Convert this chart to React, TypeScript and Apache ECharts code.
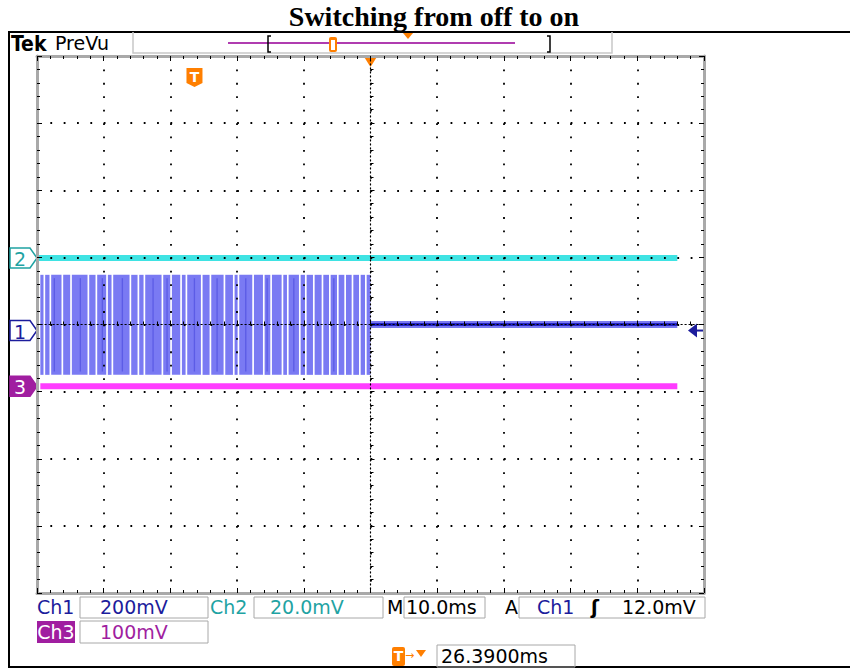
import React, { useEffect, useRef } from "react";
import * as echarts from "echarts";

// ---------- data (x in ms relative to screen centre, 10 ms/div; y in divisions) ----------
const TITLE = "Switching from off to on";
const X_MIN = -50;
const X_MAX = 50;
const X_DIV = 10;
const Y_MIN = -4;
const Y_MAX = 4;
const Y_DIV = 1;

const RECORD_END = 46;
const CH1_BURST_START = -49.5;
const CH1_BURST_END = 0;
const CH1_BURST_HIGH = 0.74;
const CH1_BURST_LOW = -0.75;
// white gaps seen inside the Ch1 burst (ms)
const CH1_GAPS = [
  -48.9, -48.0, -46.2, -44.9, -42.3, -41.1, -39.5, -38.7, -36.0, -34.8, -33.9, -31.2,
  -29.9, -28.4, -27.6, -25.3, -24.0, -21.9, -20.5, -19.8, -17.6, -16.0, -14.9, -13.2,
  -12.4, -10.6, -9.7, -8.5, -7.2, -6.1, -4.9, -3.8, -2.7, -1.6, -0.7,
];
// darker streaks inside the burst (ms)
const CH1_STREAKS = [-47.4, -43.5, -40.2, -37.2, -32.6, -30.5, -26.4, -23.0, -18.7, -15.5, -11.5, -5.5];
const CH1_GAP_WIDTH = 0.25;
const CH1_AFTER = [
  [0, 0],
  [RECORD_END, 0],
];
const CH2 = [
  [-50, 0.99],
  [RECORD_END, 0.99],
];
const CH3 = [
  [-49.5, -0.92],
  [RECORD_END, -0.92],
];
const CH1_LEVEL = 0;
const CH2_LEVEL = 0.99;
const CH3_LEVEL = -0.92;
const TRIG_LEVEL = -0.09;
const TRIG_POS = -26.39;

const TOP_LABELS = ["Tek", "PreVu"];
const ROW1 = ["Ch1", "200mV", "Ch2", "20.0mV", "M", "10.0ms", "A", "Ch1", "ʃ", "12.0mV"];
const ROW2 = ["Ch3", "100mV"];
const ROW3 = ["26.3900ms"];

const ORANGE = "#ff7f00";
const NAVY = "#1c1c9c";
const TEAL = "#1fa3a3";
const PURPLE = "#a01ea0";
const FONT = "DejaVu Sans";

export default function App() {
  const ref = useRef<HTMLDivElement>(null);

  useEffect(() => {
    if (!ref.current) return;
    const chart = echarts.init(ref.current, undefined, { renderer: "svg" });

    const segs: number[][] = [];
    let start = CH1_BURST_START;
    for (const g of CH1_GAPS) {
      segs.push([start, g - CH1_GAP_WIDTH / 2, CH1_BURST_HIGH, CH1_BURST_LOW]);
      start = g + CH1_GAP_WIDTH / 2;
    }
    segs.push([start, CH1_BURST_END, CH1_BURST_HIGH, CH1_BURST_LOW]);
    const streaks = CH1_STREAKS.map((s) => [s - 0.1, s + 0.1, CH1_BURST_HIGH - 0.05, CH1_BURST_LOW + 0.05]);

    const baseX = {
      type: "value",
      min: X_MIN,
      max: X_MAX,
      interval: X_DIV,
      axisLabel: { show: false },
      splitLine: { show: false },
    };
    const baseY = {
      type: "value",
      min: Y_MIN,
      max: Y_MAX,
      interval: Y_DIV,
      axisLabel: { show: false },
      splitLine: { show: false },
    };
    const frameLine = { lineStyle: { color: "#a9a9a9", width: 3 } };
    const frameTick = { show: true, inside: true, length: 5, lineStyle: { color: "#000", width: 1 } };
    const frameMinor = { show: true, splitNumber: 5, length: 3, lineStyle: { color: "#000", width: 1 } };

    const rectItem = (fill: string) => (params: any, api: any) => {
      const p0 = api.coord([api.value(0), api.value(2)]);
      const p1 = api.coord([api.value(1), api.value(3)]);
      return {
        type: "rect",
        shape: { x: p0[0], y: p0[1], width: p1[0] - p0[0], height: p1[1] - p0[1] },
        style: { fill },
      };
    };

    const option: any = {
      animation: false,
      backgroundColor: "#ffffff",
      grid: { left: 37, top: 56, width: 667, height: 537, containLabel: false, outerBoundsMode: "none" },
      xAxis: [
        {
          ...baseX,
          position: "bottom",
          z: 10,
          axisLine: { onZero: true, onZeroAxisIndex: 0, lineStyle: { color: "#000", width: 1.2, type: [1.2, 2.8] } },
          axisTick: { show: true, inside: true, length: 4, lineStyle: { color: "#000" } },
          minorTick: { show: true, splitNumber: 5, length: 3, lineStyle: { color: "#000" } },
          splitLine: { show: true, lineStyle: { color: "#000", width: 1.8, type: [1.8, 11.625] } },
        },
        { ...baseX, position: "bottom", z: 11, axisLine: { onZero: false, ...frameLine }, axisTick: frameTick, minorTick: frameMinor },
        { ...baseX, position: "top", z: 11, axisLine: { onZero: false, ...frameLine }, axisTick: frameTick, minorTick: frameMinor },
      ],
      yAxis: [
        {
          ...baseY,
          position: "left",
          z: 10,
          axisLine: { onZero: true, onZeroAxisIndex: 0, lineStyle: { color: "#000", width: 1.2, type: [1.2, 2.8] } },
          axisTick: { show: true, inside: true, length: 4, lineStyle: { color: "#000" } },
          minorTick: { show: true, splitNumber: 5, length: 3, lineStyle: { color: "#000" } },
          splitLine: { show: true, lineStyle: { color: "#000", width: 1.8, type: [1.8, 11.54] } },
        },
        { ...baseY, position: "left", z: 11, axisLine: { onZero: false, ...frameLine }, axisTick: frameTick, minorTick: frameMinor },
        { ...baseY, position: "right", z: 11, axisLine: { onZero: false, ...frameLine }, axisTick: frameTick, minorTick: frameMinor },
      ],
      series: [
        { type: "custom", name: "Ch1 burst", data: segs, renderItem: rectItem("#7a7af3"), z: 2 },
        { type: "custom", name: "Ch1 streaks", data: streaks, renderItem: rectItem("#5c5ce6"), z: 2 },
        {
          type: "line",
          name: "Ch2",
          data: CH2,
          symbol: "none",
          lineStyle: { color: "#3fe3e3", width: 6 },
          z: 3,
        },
        {
          type: "line",
          name: "Ch3",
          data: CH3,
          symbol: "none",
          lineStyle: { color: "#ff3cff", width: 6 },
          z: 3,
        },
        {
          type: "line",
          name: "Ch1 halo",
          data: CH1_AFTER,
          symbol: "none",
          lineStyle: { color: "#7a7af0", width: 7 },
          z: 3,
        },
        {
          type: "line",
          name: "Ch1",
          data: CH1_AFTER,
          symbol: "none",
          lineStyle: { color: "#2323c8", width: 3 },
          z: 4,
        },
      ],
    };
    chart.setOption(option);

    const yp = (v: number) => chart.convertToPixel({ yAxisIndex: 0 }, v) as number;
    const xp = (v: number) => chart.convertToPixel({ xAxisIndex: 0 }, v) as number;

    const marker = (y: number, label: string, stroke: string, fill: string, textFill: string) => ({
      type: "group",
      children: [
        {
          type: "polygon",
          shape: { points: [[10, y - 10], [30, y - 10], [37, y], [30, y + 10], [10, y + 10]] },
          style: { fill, stroke, lineWidth: 1.5 },
        },
        {
          type: "text",
          x: 20,
          y: y + 1,
          style: { text: label, fill: textFill, font: `19px ${FONT}`, textAlign: "center", textVerticalAlign: "middle" },
        },
      ],
    });

    const box = (x: number, y: number, w: number, h: number) => ({
      type: "rect",
      shape: { x, y, width: w, height: h },
      style: { fill: "none", stroke: "#a8a8a8", lineWidth: 1 },
    });
    const txt = (x: number, y: number, text: string, fill: string, size = 19, align = "left", weight = "normal", family = FONT) => ({
      type: "text",
      x,
      y,
      style: { text, fill, font: `${weight} ${size}px ${family}`, textAlign: align, textVerticalAlign: "middle" },
    });

    const xTrig = xp(0);
    const xT = xp(TRIG_POS);
    const yTrig = yp(TRIG_LEVEL);

    const graphic: any[] = [
      // title
      txt(434, 16, TITLE, "#000", 28, "center", "bold", "Liberation Serif"),
      // outer frame
      { type: "line", shape: { x1: 8, y1: 32, x2: 850, y2: 32 }, style: { stroke: "#000", lineWidth: 2 } },
      { type: "line", shape: { x1: 9, y1: 32, x2: 9, y2: 668 }, style: { stroke: "#000", lineWidth: 2 } },
      { type: "line", shape: { x1: 8, y1: 667, x2: 850, y2: 667 }, style: { stroke: "#000", lineWidth: 2 } },
      // top status bar
      txt(11, 44, TOP_LABELS[0], "#000", 21, "left", "bold", "DejaVu Sans Condensed"),
      txt(55, 43, TOP_LABELS[1], "#000", 19, "left"),
      { type: "polyline", shape: { points: [[133, 32], [133, 53], [612, 53], [612, 32]] }, style: { fill: "none", stroke: "#c8c8c8", lineWidth: 1.5 } },
      { type: "line", shape: { x1: 228, y1: 43, x2: 515, y2: 43 }, style: { stroke: "#b03cb0", lineWidth: 2 } },
      { type: "polyline", shape: { points: [[271, 36], [268, 36], [268, 52], [271, 52]] }, style: { fill: "none", stroke: "#000", lineWidth: 1.5 } },
      { type: "polyline", shape: { points: [[547, 36], [550, 36], [550, 52], [547, 52]] }, style: { fill: "none", stroke: "#000", lineWidth: 1.5 } },
      { type: "rect", shape: { x: 329, y: 37, width: 8, height: 15, r: 2 }, style: { fill: ORANGE } },
      { type: "rect", shape: { x: 331, y: 40, width: 4, height: 10 }, style: { fill: "#ffffff" } },
      { type: "polygon", shape: { points: [[403, 33], [413, 33], [408, 39]] }, style: { fill: ORANGE } },
      // trigger position on graticule top
      { type: "polygon", shape: { points: [[xTrig - 7, 56], [xTrig + 7, 56], [xTrig, 67]] }, style: { fill: ORANGE } },
      // T marker
      { type: "polygon", shape: { points: [[xT - 8, 68], [xT + 8, 68], [xT + 8, 83], [xT, 87], [xT - 8, 83]] }, style: { fill: ORANGE } },
      txt(xT, 77, "T", "#fff", 14, "center", "bold"),
      // channel markers
      marker(yp(CH2_LEVEL), "2", TEAL, "#ffffff", TEAL),
      marker(yp(CH1_LEVEL) + 6, "1", NAVY, "#ffffff", NAVY),
      marker(yp(CH3_LEVEL), "3", PURPLE, PURPLE, "#ffffff"),
      // trigger level arrow
      { type: "polygon", shape: { points: [[688, yTrig], [697, yTrig - 7], [697, yTrig + 7]] }, style: { fill: NAVY } },
      { type: "line", shape: { x1: 696, y1: yTrig, x2: 704, y2: yTrig }, style: { stroke: NAVY, lineWidth: 2 } },
      // readouts row 1
      txt(37, 607, ROW1[0], NAVY),
      box(80, 597, 128, 21),
      txt(100, 607, ROW1[1], NAVY),
      txt(210, 607, ROW1[2], TEAL),
      box(254, 597, 129, 21),
      txt(270, 607, ROW1[3], TEAL),
      txt(387, 607, ROW1[4], "#000"),
      box(404, 597, 81, 21),
      txt(406, 607, ROW1[5], "#000"),
      txt(505, 607, ROW1[6], "#000"),
      box(519, 597, 186, 21),
      txt(537, 607, ROW1[7], NAVY),
      txt(591, 607, ROW1[8], "#000", 19, "left", "bold"),
      txt(622, 607, ROW1[9], "#000"),
      // row 2
      { type: "rect", shape: { x: 37, y: 621, width: 38, height: 22 }, style: { fill: PURPLE } },
      txt(56, 632, ROW2[0], "#fff", 19, "center"),
      box(80, 621, 128, 22),
      txt(100, 632, ROW2[1], PURPLE),
      // row 3
      { type: "rect", shape: { x: 392, y: 647, width: 13, height: 19, r: 2 }, style: { fill: ORANGE } },
      txt(398.5, 656, "T", "#fff", 14, "center", "bold"),
      txt(405, 655, "→", ORANGE, 11, "left"),
      { type: "polygon", shape: { points: [[416, 650], [426, 650], [421, 657]] }, style: { fill: ORANGE } },
      box(437, 645, 138, 22),
      txt(441, 656, ROW3[0], "#000"),
    ];
    chart.setOption({ graphic });

    return () => chart.dispose();
  }, []);

  return (
    <div
      ref={ref}
      style={{ position: "fixed", left: 0, top: 0, width: 850, height: 669, background: "#fff" }}
    />
  );
}
